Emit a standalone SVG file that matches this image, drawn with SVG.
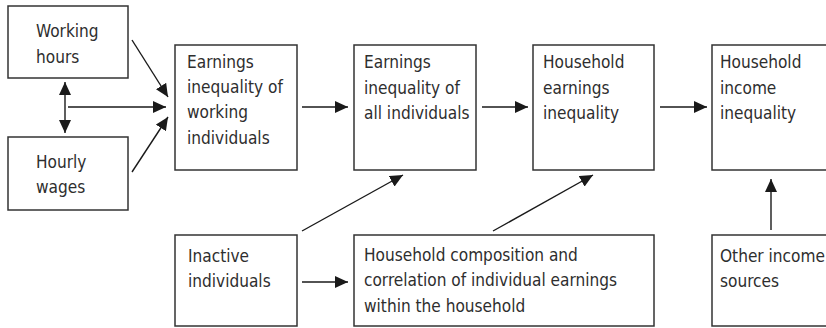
<svg xmlns="http://www.w3.org/2000/svg" width="826" height="328" viewBox="0 0 826 328">
<style>
.box{fill:#fff;stroke:#333;stroke-width:1.5}
.t{font-family:"DejaVu Sans Condensed","DejaVu Sans",sans-serif;font-stretch:condensed;font-size:17.1px;fill:#2e2e2e}
.c{stroke:#1a1a1a;stroke-width:1.4;fill:none}
</style>
<defs>
<marker id="ah" markerUnits="userSpaceOnUse" markerWidth="14" markerHeight="12" refX="13" refY="6" orient="auto-start-reverse">
<path d="M0,0 L13,6 L0,12 Z" fill="#1a1a1a"/>
</marker>
</defs>
<rect width="826" height="328" fill="#fff"/>
<g id="working-hours"><rect class="box" x="8" y="6" width="120" height="72"/><text class="t" x="36" y="37">Working</text><text class="t" x="36" y="63">hours</text></g>
<g id="hourly-wages"><rect class="box" x="8" y="137" width="120" height="73"/><text class="t" x="36" y="168">Hourly</text><text class="t" x="36" y="193">wages</text></g>
<g id="earnings-working"><rect class="box" x="175" y="45" width="122" height="125"/><text class="t" x="187" y="68">Earnings</text><text class="t" x="187" y="93">inequality of</text><text class="t" x="187" y="118">working</text><text class="t" x="187" y="144">individuals</text></g>
<g id="earnings-all"><rect class="box" x="354" y="45" width="122" height="125"/><text class="t" x="364" y="68">Earnings</text><text class="t" x="364" y="94">inequality of</text><text class="t" x="364" y="119">all individuals</text></g>
<g id="household-earnings"><rect class="box" x="533" y="45" width="121" height="125"/><text class="t" x="543" y="68">Household</text><text class="t" x="543" y="94">earnings</text><text class="t" x="543" y="119">inequality</text></g>
<g id="household-income"><rect class="box" x="712" y="45" width="130" height="125"/><text class="t" x="720" y="68">Household</text><text class="t" x="720" y="94">income</text><text class="t" x="720" y="119">inequality</text></g>
<g id="inactive"><rect class="box" x="175" y="235" width="122" height="91"/><text class="t" x="188" y="262">Inactive</text><text class="t" x="188" y="287">individuals</text></g>
<g id="composition"><rect class="box" x="354" y="235" width="300" height="91"/><text class="t" x="364" y="261">Household composition and</text><text class="t" x="364" y="286">correlation of individual earnings</text><text class="t" x="364" y="312">within the household</text></g>
<g id="other-income"><rect class="box" x="712" y="235" width="130" height="91"/><text class="t" x="720" y="262">Other income</text><text class="t" x="720" y="287">sources</text></g>
<g id="connectors">
<line class="c" x1="132" y1="40" x2="168" y2="97" marker-end="url(#ah)"/>
<line class="c" x1="132" y1="172" x2="168" y2="117" marker-end="url(#ah)"/>
<line class="c" x1="65" y1="82" x2="65" y2="133" marker-start="url(#ah)" marker-end="url(#ah)"/>
<line class="c" x1="68" y1="107" x2="166" y2="107" marker-end="url(#ah)"/>
<line class="c" x1="302" y1="107" x2="348" y2="107" marker-end="url(#ah)"/>
<line class="c" x1="482" y1="107" x2="528" y2="107" marker-end="url(#ah)"/>
<line class="c" x1="660" y1="107" x2="707" y2="107" marker-end="url(#ah)"/>
<line class="c" x1="302" y1="231" x2="403" y2="175" marker-end="url(#ah)"/>
<line class="c" x1="493" y1="231" x2="593" y2="175" marker-end="url(#ah)"/>
<line class="c" x1="302" y1="282" x2="348" y2="282" marker-end="url(#ah)"/>
<line class="c" x1="771" y1="230" x2="771" y2="179" marker-end="url(#ah)"/>
</g>
</svg>
